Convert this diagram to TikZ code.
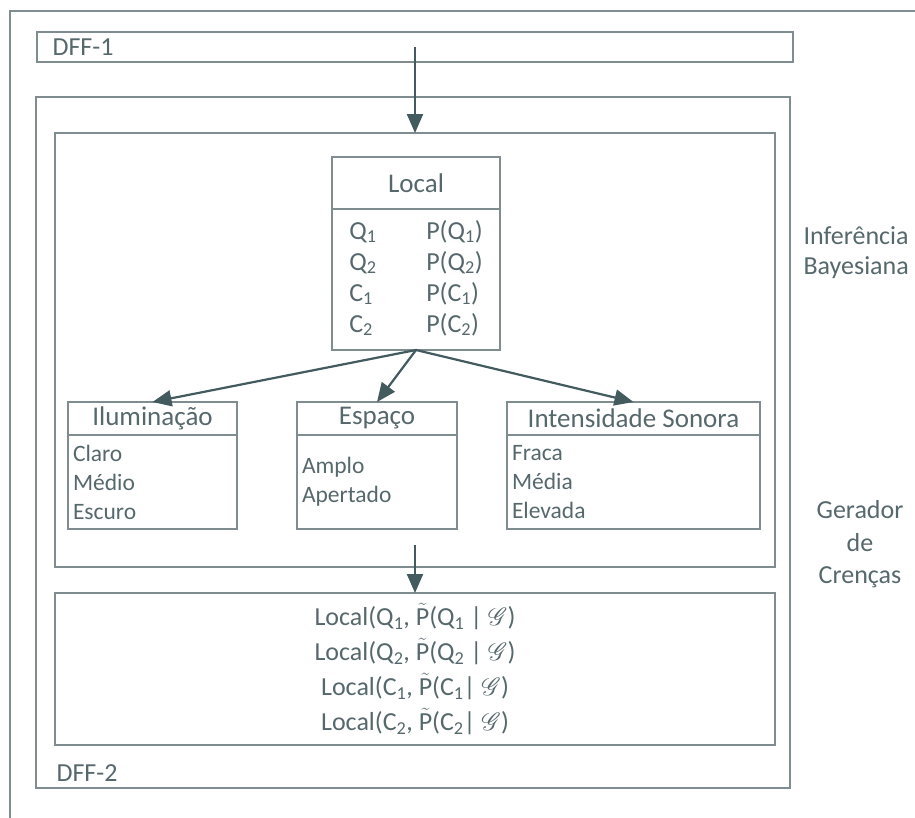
\documentclass[tikz,border=0pt]{standalone}
\usepackage{fontspec}
\setmainfont{Carlito}
\usepackage{mathrsfs}
\usetikzlibrary{arrows.meta, positioning}
\definecolor{FrameGray}{HTML}{7F8D90}
\definecolor{TextSlate}{HTML}{56686C}
\definecolor{ArrowSlate}{HTML}{435A5E}
\newcommand{\subn}[1]{\textsubscript{#1}}
\newcommand{\tildeP}{$\tilde{\hbox{P}}$}

\begin{document}
\begin{tikzpicture}[x=1pt, y=-1pt,
    frame/.style={rectangle, draw=FrameGray, line width=1.3pt, inner sep=0pt, outer sep=0pt},
    hdr/.style={frame, font=\fontsize{27}{32}\selectfont, text=TextSlate},
    body/.style={frame, font=\fontsize{23.5}{29}\selectfont, text=TextSlate, align=left, inner xsep=5pt},
    lbl/.style={font=\fontsize{26}{30}\selectfont, text=TextSlate},
    arrow/.style={-{Triangle[length=19pt, width=16pt]}, line width=2.2pt, color=ArrowSlate}
  ]
  \clip (0,0) rectangle (915,817);
  % outer frame (runs off the page right and bottom)
  \draw[FrameGray, line width=1.3pt] (10,830) -- (10,11) -- (930,11);

  % DFF-1
  \node[frame, minimum width=756pt, minimum height=30pt] (dffone) at (415,47) {};
  \node[lbl, anchor=west] (dffonetxt) at (49,47) {DFF-1};

  % DFF-2
  \node[frame, minimum width=754pt, minimum height=691pt] (dfftwo) at (413,442.5) {};
  \node[lbl, anchor=west] (dfftwotxt) at (53,773) {DFF-2};

  % Inferencia Bayesiana
  \node[frame, minimum width=720pt, minimum height=434pt] (inf) at (415,350) {};
  \node[lbl, align=left, anchor=west] (inftxt) at (800,253) {Inferência\\Bayesiana};

  % Local table
  \node[hdr, minimum width=168pt, minimum height=52pt] (localhdr) at (416,183) {Local};
  \node[frame, minimum width=168pt, minimum height=141pt, below=0pt of localhdr,
        font=\fontsize{26}{31}\selectfont, text=TextSlate] (local) {%
    \begin{tabular}{@{}p{77pt}@{}l@{}}
      Q\subn{1} & P(Q\subn{1})\\
      Q\subn{2} & P(Q\subn{2})\\
      C\subn{1} & P(C\subn{1})\\
      C\subn{2} & P(C\subn{2})
    \end{tabular}};

  % child tables
  \node[hdr, minimum width=169pt, minimum height=33pt] (ilumhdr) at (152.5,418.5) {Iluminação};
  \node[body, text width=159pt, minimum height=94pt, below=0pt of ilumhdr] (ilum) {Claro\\Médio\\Escuro};

  \node[hdr, minimum width=160pt, minimum height=33pt] (esphdr) at (377,418.5) {Espaço};
  \node[body, text width=150pt, minimum height=94pt, below=0pt of esphdr] (esp) {Amplo\\Apertado};

  \node[hdr, minimum width=253pt, minimum height=33pt] (somhdr) at (633.5,418.5) {Intensidade Sonora};
  \node[body, text width=243pt, minimum height=94pt, below=0pt of somhdr] (som) {Fraca\\Média\\Elevada};

  \draw[arrow] (dffone.center) -- (inf.north);
  \draw[arrow] (local.south) -- (ilumhdr.north);
  \draw[arrow] (local.south) -- (esphdr.north);
  \draw[arrow] (local.south) -- (somhdr.north);

  % Gerador de Crencas
  \node[frame, minimum width=720pt, minimum height=152pt, align=center, text=TextSlate,
        font=\fontsize{26}{35}\selectfont] (belief) at (415,669) {%
    Local(Q\subn{1}, \tildeP(Q\subn{1} | $\mathscr{G}$)\\
    Local(Q\subn{2}, \tildeP(Q\subn{2} | $\mathscr{G}$)\\
    Local(C\subn{1}, \tildeP(C\subn{1}| $\mathscr{G}$)\\
    Local(C\subn{2}, \tildeP(C\subn{2}| $\mathscr{G}$)};
  \node[lbl, align=center, font=\fontsize{26}{32.5}\selectfont] (gertxt) at (860,544.5) {Gerador\\de\\Crenças};

  \coordinate (gap) at (415,545);
  \draw[arrow] (gap) -- (belief.north);
\end{tikzpicture}
\end{document}
